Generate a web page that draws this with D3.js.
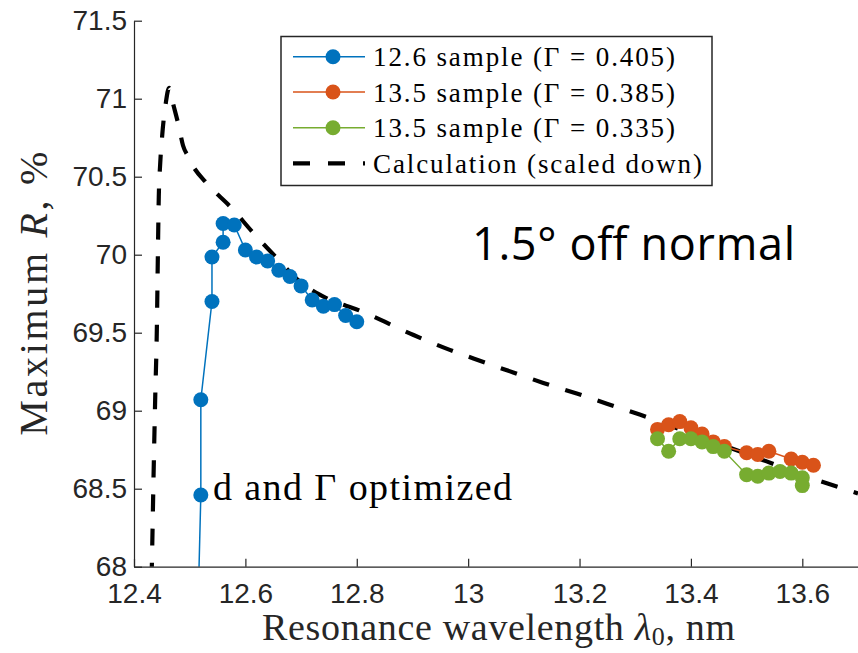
<!DOCTYPE html>
<html><head><meta charset="utf-8">
<script src="https://cdn.jsdelivr.net/npm/d3@7"></script>
<style>body{margin:0;background:#fff} svg{display:block}</style>
</head><body><svg id="c" width="858" height="653"></svg>
<script>
// ---- data ----
const blueX = [12.514, 12.52, 12.52, 12.54, 12.54, 12.56, 12.56, 12.58, 12.60, 12.62, 12.64, 12.66, 12.68, 12.70, 12.72, 12.74, 12.76, 12.78, 12.80];
const blueY = [67.60, 68.46, 69.07, 69.70, 69.985, 70.08, 70.20, 70.19, 70.03, 69.985, 69.96, 69.90, 69.86, 69.80, 69.71, 69.67, 69.68, 69.61, 69.57];
const orangeX = [13.34, 13.36, 13.38, 13.40, 13.42, 13.44, 13.46, 13.50, 13.52, 13.54, 13.58, 13.60, 13.62];
const orangeY = [68.88, 68.91, 68.93, 68.89, 68.85, 68.80, 68.77, 68.73, 68.72, 68.74, 68.69, 68.67, 68.65];
const greenX = [13.34, 13.36, 13.38, 13.40, 13.42, 13.44, 13.46, 13.50, 13.52, 13.54, 13.56, 13.58, 13.60, 13.60];
const greenY = [68.82, 68.74, 68.82, 68.82, 68.80, 68.77, 68.74, 68.59, 68.58, 68.60, 68.61, 68.60, 68.57, 68.52];
const calcX = [12.430, 12.432, 12.435, 12.438, 12.441, 12.443, 12.4445, 12.447, 12.451, 12.457, 12.463, 12.470, 12.480, 12.488, 12.497, 12.504, 12.530, 12.575, 12.614, 12.656, 12.697, 12.746, 12.803, 12.902, 12.967, 13.021, 13.081, 13.135, 13.195, 13.249, 13.308, 13.362, 13.416, 13.476, 13.536, 13.590, 13.644, 13.700];
const calcY = [67.70, 68.00, 68.56, 69.07, 69.52, 70.03, 70.37, 70.58, 70.78, 70.97, 71.07, 70.97, 70.83, 70.70, 70.63, 70.58, 70.46, 70.30, 70.14, 69.98, 69.83, 69.72, 69.645, 69.485, 69.39, 69.32, 69.245, 69.178, 69.11, 69.045, 68.975, 68.905, 68.835, 68.755, 68.675, 68.60, 68.535, 68.47];
const xTicks = [12.4, 12.6, 12.8, 13, 13.2, 13.4, 13.6];
const yTicks = [68, 68.5, 69, 69.5, 70, 70.5, 71, 71.5];
const seriesNames = ["12.6 sample (\u0393 = 0.405)", "13.5 sample (\u0393 = 0.385)", "13.5 sample (\u0393 = 0.335)", "Calculation (scaled down)"];
const seriesColors = ["#0072BD", "#D95319", "#77AC30", "#000000"];

// ---- layout ----
const svg = d3.select('#c');
const L = 134, R = 858, T = 20.7, B = 566.7;
const x = d3.scaleLinear().domain([12.4, 13.7]).range([L, R]);
const y = d3.scaleLinear().domain([68, 71.5]).range([B, T]);
const axisColor = "#262626";
const serif = "'Liberation Serif', 'DejaVu Serif', serif";
const sans = "'Liberation Sans', Arial, sans-serif";

svg.append("defs").append("clipPath").attr("id", "clip")
  .append("rect").attr("x", L).attr("y", T).attr("width", R - L).attr("height", B - T);

const plot = svg.append("g").attr("clip-path", "url(#clip)");
const line = d3.line().x(d => x(d[0])).y(d => y(d[1]));

// calculation dashed
plot.append("path")
  .datum(calcX.map((v, i) => [v, calcY[i]]))
  .attr("d", d3.line().x(d => x(d[0])).y(d => y(d[1])).curve(d3.curveMonotoneX))
  .attr("fill", "none").attr("stroke", "#000").attr("stroke-width", 4.2)
  .attr("stroke-dasharray", "17,17");

function series(xs, ys, color) {
  const pts = xs.map((v, i) => [v, ys[i]]);
  plot.append("path").datum(pts).attr("d", line)
    .attr("fill", "none").attr("stroke", color).attr("stroke-width", 1.5);
  plot.selectAll(null).data(pts).enter().append("circle")
    .attr("cx", d => x(d[0])).attr("cy", d => y(d[1])).attr("r", 7.5)
    .attr("fill", color);
}
series(orangeX, orangeY, seriesColors[1]);
series(greenX, greenY, seriesColors[2]);
series(blueX, blueY, seriesColors[0]);

// axes
const gx = svg.append("g").attr("transform", `translate(0,${B})`)
  .call(d3.axisBottom(x).tickValues(xTicks).tickSizeInner(-8).tickSizeOuter(0).tickPadding(16)
    .tickFormat(d3.format("")));
const gy = svg.append("g").attr("transform", `translate(${L},0)`)
  .call(d3.axisLeft(y).tickValues(yTicks).tickSizeInner(-8).tickSizeOuter(0).tickPadding(7)
    .tickFormat(d3.format("")));
[gx, gy].forEach(g => {
  g.selectAll("path,line").attr("stroke", axisColor).attr("stroke-width", 1.2);
  g.selectAll("text").attr("fill", axisColor).style("font-family", sans).style("font-size", "28px");
});

// axis titles
const xt = svg.append("text").attr("x", 262).attr("y", 640)
  .attr("textLength", 473).attr("lengthAdjust", "spacing")
  .style("font-family", serif).style("font-size", "38px").attr("fill", axisColor);
xt.append("tspan").text("Resonance wavelength ");
xt.append("tspan").style("font-style", "italic").text("\u03BB");
xt.append("tspan").attr("dy", 5).style("font-size", "26px").text("0");
xt.append("tspan").attr("dy", -5).text(", nm");

const yt = svg.append("text").attr("transform", `translate(47,${(T + B) / 2}) rotate(-90)`)
  .attr("x", -142).attr("textLength", 284).attr("lengthAdjust", "spacing")
  .style("font-family", serif).style("font-size", "40px").attr("fill", axisColor);
yt.append("tspan").text("Maximum ");
yt.append("tspan").style("font-style", "italic").text("R");
yt.append("tspan").text(", %");

// annotations
svg.append("text").attr("x", 213).attr("y", 500).attr("textLength", 299).attr("lengthAdjust", "spacing")
  .style("font-family", serif).style("font-size", "38px").attr("fill", "#000").text("d and \u0393 optimized");
svg.append("text").attr("x", 472).attr("y", 260).attr("textLength", 323).attr("lengthAdjust", "spacing")
  .style("font-family", "'Open Sans', sans-serif").style("font-size", "45px").attr("fill", "#000")
  .text("1.5\u00B0 off normal");

// legend
const lg = svg.append("g");
lg.append("rect").attr("x", 281).attr("y", 36.5).attr("width", 431).attr("height", 149)
  .attr("fill", "#fff").attr("stroke", axisColor).attr("stroke-width", 1.5);
const rowY = [56.7, 92, 127.7, 163.3];
const rowW = [302, 302, 302, 329];
seriesNames.forEach((name, i) => {
  const cy = rowY[i];
  if (i < 3) {
    lg.append("line").attr("x1", 293).attr("x2", 365).attr("y1", cy).attr("y2", cy)
      .attr("stroke", seriesColors[i]).attr("stroke-width", 1.5);
    lg.append("circle").attr("cx", 333).attr("cy", cy).attr("r", 7.5).attr("fill", seriesColors[i]);
  } else {
    lg.append("line").attr("x1", 293).attr("x2", 365).attr("y1", cy).attr("y2", cy)
      .attr("stroke", "#000").attr("stroke-width", 4.2).attr("stroke-dasharray", "17,18");
  }
  lg.append("text").attr("x", 373).attr("y", cy + 9.5)
    .attr("textLength", rowW[i]).attr("lengthAdjust", "spacing")
    .style("font-family", serif).style("font-size", "27px").attr("fill", "#000").text(name);
});
</script>
</body></html>
